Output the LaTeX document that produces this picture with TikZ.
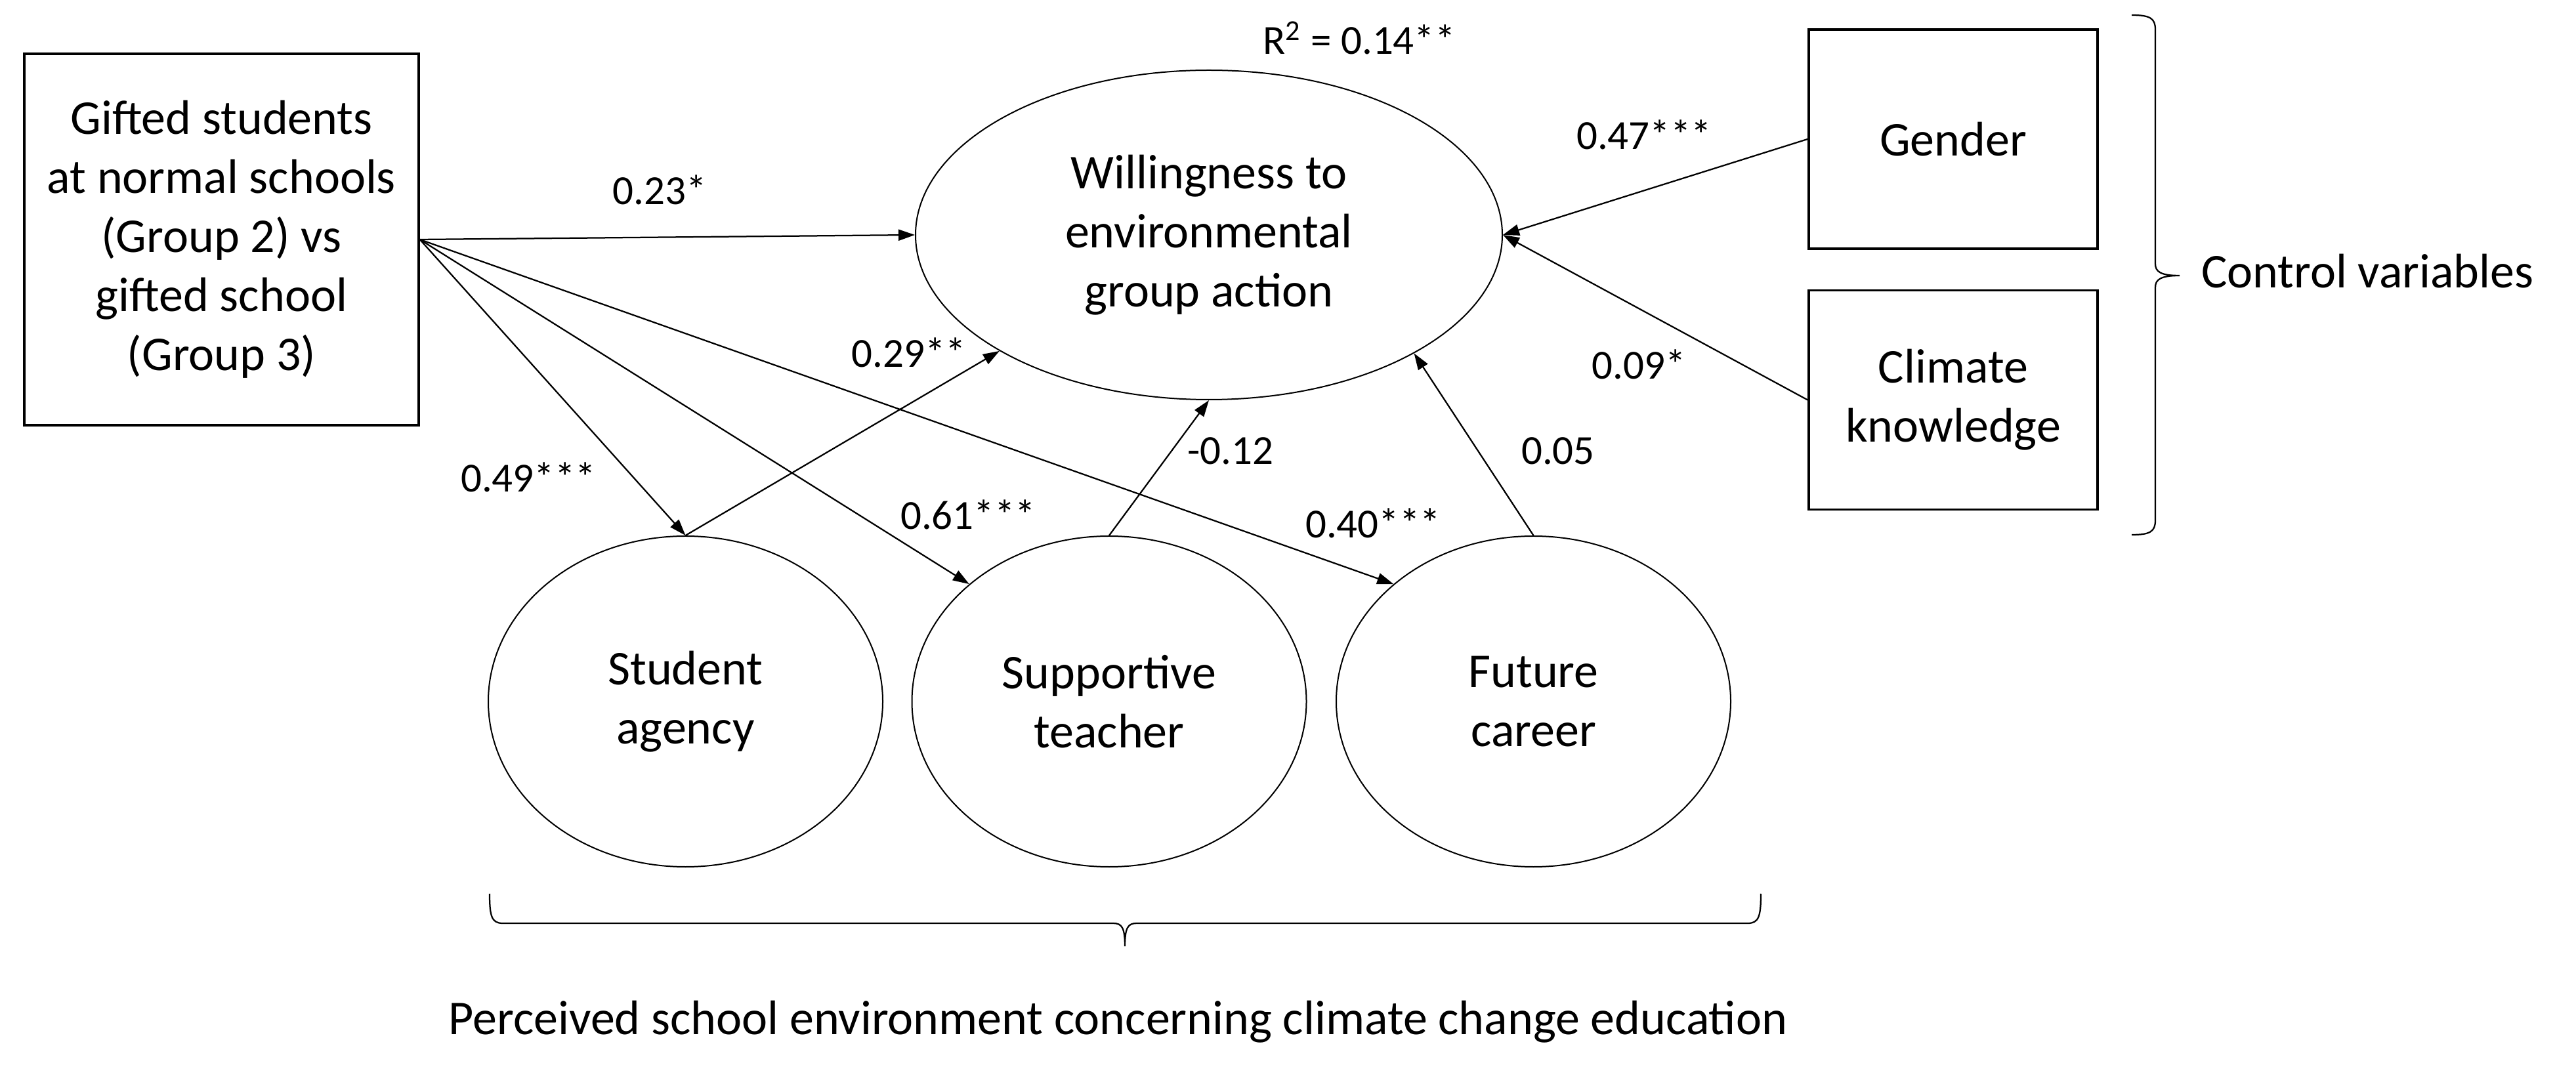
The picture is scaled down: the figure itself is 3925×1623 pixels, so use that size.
\documentclass[tikz,border=0pt]{standalone}
\usepackage{fontspec}
\setmainfont{Carlito}
\usetikzlibrary{arrows.meta,shapes.geometric}
\begin{document}
\begin{tikzpicture}[x=0.2pt,y=-0.2pt,
  every node/.style={font=\fontsize{14.8}{18}\selectfont, align=center, inner sep=0pt},
  bigbox/.style={draw, line width=0.7pt, minimum width=120.2pt, minimum height=113.2pt},
  ctrlbox/.style={draw, line width=0.7pt, minimum width=88pt, minimum height=66.8pt},
  latent/.style={draw, ellipse, line width=0.4pt},
  smallell/.style={latent, minimum width=120.2pt, minimum height=100.8pt},
  lbl/.style={font=\fontsize{12.6}{15}\selectfont, anchor=base},
  link/.style={-{Triangle[length=5pt,width=3.4pt]}, line width=0.45pt},
  brc/.style={line width=0.45pt}
]
\useasboundingbox (0,0) rectangle (3925,1623);
\fill[white] (0,0) rectangle (3925,1623);

% nodes
\node[bigbox] (gs) at (337.5,365) {Gifted students\\at normal schools\\(Group 2) vs\\gifted school\\(Group 3)};
\node[latent, minimum width=178.8pt, minimum height=100.4pt] (we) at (1842,358) {Willingness to\\environmental\\group action};
\node[smallell] (sa) at (1044.5,1069) {Student\\agency};
\node[smallell] (stch) at (1690,1069) {Supportive\\teacher};
\node[smallell] (fc) at (2336.5,1069) {Future\\career};
\node[ctrlbox] (gen) at (2976,212) {Gender};
\node[ctrlbox] (ck) at (2976,609.5) {Climate\\knowledge};

\coordinate (F) at (gs.east);

% connectors
\draw[link] (F) -- (we.west);
\draw[link] (F) -- (sa.north);
\draw[link] (F) -- (stch.140);
\draw[link] (F) -- (fc.140);
\draw[link] (sa.north) -- (we.209);
\draw[link] (stch.north) -- (we.south);
\draw[link] (fc.north) -- (we.330);
\draw[link] (gen.west) -- (we.east);
\draw[link] (ck.west) -- (we.east);

% labels
\node[lbl] (r2) at (2071,83) {R\textsuperscript{2} = 0.14**};
\node[lbl] (l23) at (1005,312) {0.23*};
\node[lbl] (l47) at (2505,228) {0.47***};
\node[lbl] (l09) at (2497,578) {0.09*};
\node[lbl] (l29) at (1385,560) {0.29**};
\node[lbl] (l49) at (805,750) {0.49***};
\node[lbl] (l61) at (1475,807) {0.61***};
\node[lbl] (lm12) at (1875,708) {-0.12};
\node[lbl] (l40) at (2092,820) {0.40***};
\node[lbl] (l05) at (2374,708) {0.05};

% right brace
\draw[brc] (3248,23) .. controls (3276,23) and (3284,28) .. (3284,45)
  -- (3284,402) .. controls (3284,414) and (3292,420) .. (3321,420)
  .. controls (3292,420) and (3284,426) .. (3284,438)
  -- (3284,793) .. controls (3284,810) and (3276,815) .. (3248,815);
\node[anchor=base west] (cv) at (3353,439) {Control variables};

% bottom brace
\draw[brc] (746,1362) .. controls (746,1396) and (749,1407) .. (766,1407)
  -- (1696,1407) .. controls (1709,1407) and (1714,1413) .. (1714,1442)
  .. controls (1714,1413) and (1719,1407) .. (1732,1407)
  -- (2663,1407) .. controls (2680,1407) and (2683,1396) .. (2683,1362);
\node[anchor=base] (pse) at (1703.5,1576) {Perceived school environment concerning climate change education};
\end{tikzpicture}
\end{document}
